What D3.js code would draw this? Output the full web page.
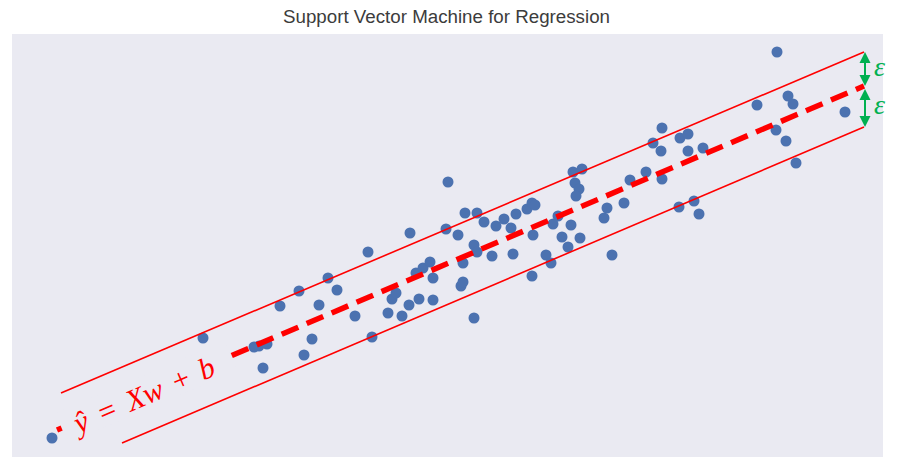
<!DOCTYPE html>
<html>
<head>
<meta charset="utf-8">
<script src="https://cdn.jsdelivr.net/npm/d3@7"></script>
<style>
  body { margin: 0; background: #ffffff; }
  .chart-title { font-family: "Liberation Sans", Arial, sans-serif; font-size: 18px; fill: #3c3c3c; }
  .formula { font-family: "Liberation Serif", "DejaVu Serif", serif; fill: #ff0000; }
  .eps { font-family: "Liberation Serif", "DejaVu Serif", serif; font-style: italic; fill: #00b050; }
</style>
</head>
<body>
<div id="chart"></div>
<script>
// data
const xs = [4.0, 19.1, 24.2, 24.7, 25.5, 25.1, 26.8, 28.7, 29.2, 30.0, 30.7, 31.6, 32.5, 34.3, 35.6, 36.0,
    37.6, 38.0, 38.4, 39.0, 39.7, 39.8, 40.4, 40.7, 41.1, 41.8, 42.1, 42.1, 43.4, 43.6, 44.6, 44.9, 45.1,
    45.1, 45.3, 46.2, 46.2, 46.5, 46.5, 47.2, 48.0, 48.4, 49.2, 49.9, 50.1, 50.4, 51.5, 52.0, 52.3, 52.0,
    52.1, 53.4, 53.9, 54.1, 54.6, 55.0, 55.6, 55.9, 56.1, 57.0, 56.3, 56.7, 56.4, 56.8, 59.2, 59.5, 60.0,
    61.2, 61.8, 63.4, 64.1, 65.0, 64.9, 65.0, 66.7, 66.8, 67.6, 67.6, 68.2, 68.7, 69.1, 74.5, 76.5, 77.6,
    78.1, 76.4, 77.4, 78.4, 83.3];
const ys = [1.9, 11.9, 11.0, 11.1, 11.3, 8.9, 15.1, 16.6, 10.2, 11.8, 15.2, 17.9, 16.7, 14.1, 20.5, 12.0,
    14.4, 15.8, 16.4, 14.1, 15.2, 22.4, 18.4, 15.8, 18.9, 19.5, 17.9, 15.7, 22.8, 27.5, 22.2, 17.1, 17.5,
    19.4, 24.4, 21.2, 13.9, 24.4, 20.5, 23.5, 20.1, 23.1, 23.8, 22.9, 20.3, 24.3, 24.8, 25.4, 25.2, 18.1,
    22.2, 20.2, 19.4, 23.3, 24.1, 22.0, 21.0, 23.2, 28.5, 28.8, 27.4, 26.8, 26.1, 21.9, 23.9, 24.9, 20.2,
    25.4, 27.7, 28.5, 31.4, 32.9, 30.6, 27.8, 25.0, 31.9, 32.3, 30.6, 25.6, 24.3, 30.9, 35.2, 40.5, 36.1,
    35.3, 32.7, 31.6, 29.4, 34.5];

// regression line and the epsilon tube, as [x, y] end points
const centerLine = [[4.5, 2.7], [85.2, 37.1]];
const upperLine = [[4.9, 6.4], [85.2, 40.5]];
const lowerLine = [[11.0, 1.4], [85.2, 33.0]];

const title = "Support Vector Machine for Regression";

const W = 908, H = 469;
const plot = { left: 12, top: 34, right: 883, bottom: 457 };

const svg = d3.select("#chart")
    .append("svg")
    .attr("width", W)
    .attr("height", H);

const xScale = d3.scaleLinear().domain([0, 87.1]).range([plot.left, plot.right]);
const yScale = d3.scaleLinear().domain([0, 42.3]).range([plot.bottom, plot.top]);

svg.append("rect")
    .attr("x", plot.left)
    .attr("y", plot.top)
    .attr("width", plot.right - plot.left)
    .attr("height", plot.bottom - plot.top)
    .attr("fill", "#eaeaf2");

svg.append("text")
    .attr("class", "chart-title")
    .attr("x", 446.5)
    .attr("y", 23)
    .attr("text-anchor", "middle")
    .attr("textLength", 327)
    .attr("lengthAdjust", "spacingAndGlyphs")
    .text(title);

// scatter
svg.append("g")
    .selectAll("circle")
    .data(d3.range(xs.length))
    .enter()
    .append("circle")
    .attr("cx", function (i) { return xScale(xs[i]); })
    .attr("cy", function (i) { return yScale(ys[i]); })
    .attr("r", 5.5)
    .attr("fill", "#4c72b0");

const line = d3.line()
    .x(function (d) { return xScale(d[0]); })
    .y(function (d) { return yScale(d[1]); });

function draw_line(pts, width, dash) {
    const p = svg.append("path")
        .attr("d", line(pts))
        .attr("fill", "none")
        .attr("stroke", "#ff0000")
        .attr("stroke-width", width);
    if (dash) p.attr("stroke-dasharray", dash);
    return p;
}

draw_line(upperLine, 1.6);
draw_line(lowerLine, 1.6);
draw_line(centerLine, 5.5, "18,9.14");

// label sits on the dashed line, with a box that hides the dashes under it
const x0 = xScale(centerLine[0][0]), y0 = yScale(centerLine[0][1]);
const x1 = xScale(centerLine[1][0]), y1 = yScale(centerLine[1][1]);
const angle = Math.atan2(y1 - y0, x1 - x0) * 180 / Math.PI;
const len = Math.hypot(x1 - x0, y1 - y0);
const ux = (x1 - x0) / len, uy = (y1 - y0) / len;
const lx = x0 + ux * 97, ly = y0 + uy * 97;

const label = svg.append("g")
    .attr("transform", "translate(" + lx + "," + ly + ") rotate(" + angle + ")");
label.append("rect")
    .attr("x", -92)
    .attr("y", -16)
    .attr("width", 184)
    .attr("height", 32)
    .attr("fill", "#eaeaf2");
const ft = label.append("text")
    .attr("class", "formula")
    .attr("x", -3)
    .attr("y", 12)
    .attr("text-anchor", "middle")
    .style("font-size", "30px");
ft.append("tspan").style("font-style", "italic").text("ŷ");
ft.append("tspan").attr("dx", 13).text("=");
ft.append("tspan").attr("dx", 13).style("font-style", "italic").text("Xw");
ft.append("tspan").attr("dx", 12).text("+");
ft.append("tspan").attr("dx", 12).style("font-style", "italic").text("b");

// epsilon arrows
const ax = xScale(upperLine[1][0]) + 1;
function double_arrow(ya, yb) {
    const g = svg.append("g").attr("fill", "#00b050");
    g.append("line")
        .attr("x1", ax).attr("x2", ax)
        .attr("y1", ya + 8).attr("y2", yb - 8)
        .attr("stroke", "#00b050")
        .attr("stroke-width", 2);
    g.append("path").attr("d", "M" + ax + "," + ya + "L" + (ax - 5.5) + "," + (ya + 11) + "L" + (ax + 5.5) + "," + (ya + 11) + "Z");
    g.append("path").attr("d", "M" + ax + "," + yb + "L" + (ax - 5.5) + "," + (yb - 11) + "L" + (ax + 5.5) + "," + (yb - 11) + "Z");
}
const yU = yScale(upperLine[1][1]), yC = yScale(centerLine[1][1]), yL = yScale(lowerLine[1][1]);
double_arrow(yU, yC);
double_arrow(yC + 3, yL);

[(yU + yC) / 2, (yC + yL) / 2].forEach(function (y) {
    svg.append("text")
        .attr("class", "eps")
        .attr("x", ax + 9)
        .attr("y", y + 7)
        .style("font-size", "28px")
        .text("ε");
});
</script>
</body>
</html>
